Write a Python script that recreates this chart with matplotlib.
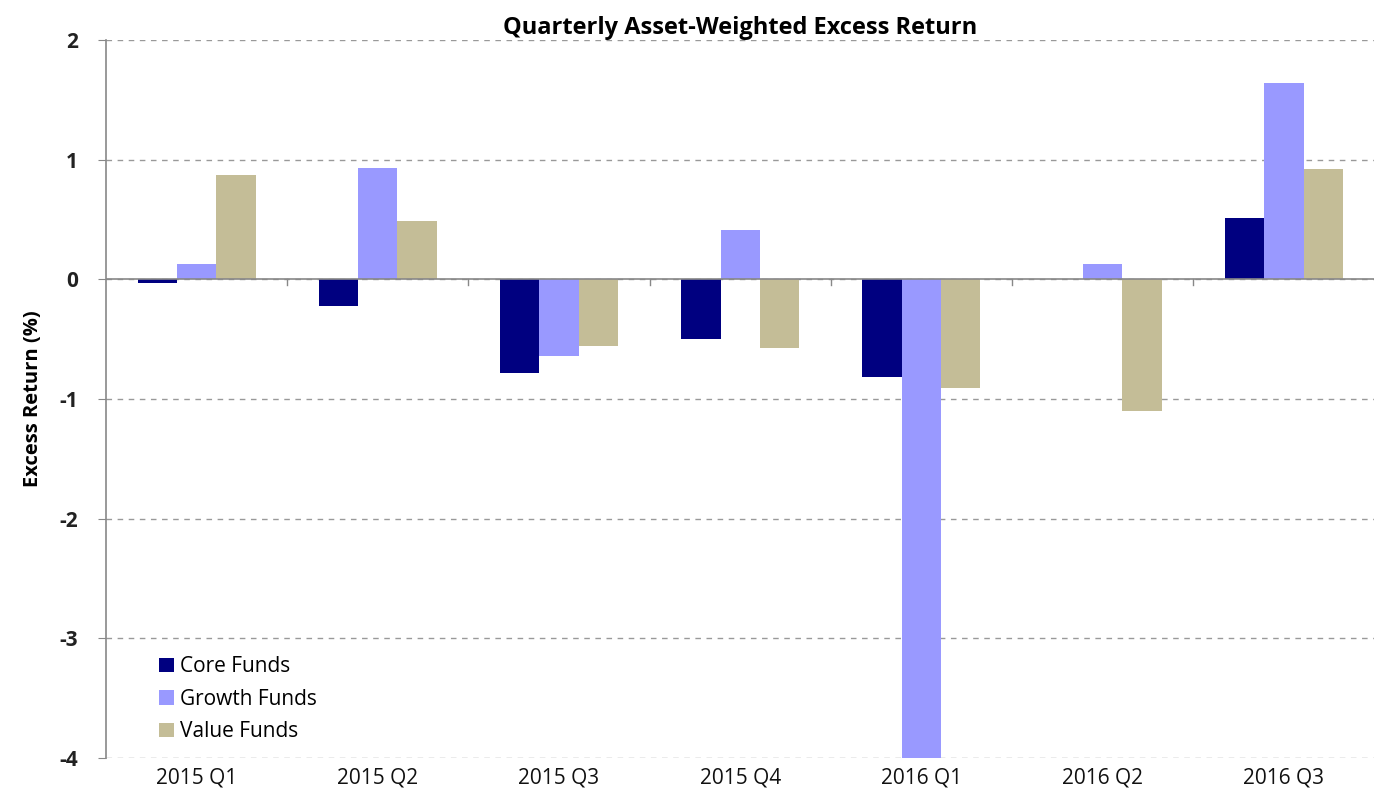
import matplotlib
matplotlib.use("Agg")
import matplotlib.pyplot as plt
import numpy as np

categories = ["2015 Q1", "2015 Q2", "2015 Q3", "2015 Q4", "2016 Q1", "2016 Q2", "2016 Q3"]
core = [-0.03, -0.22, -0.78, -0.50, -0.82, 0.0, 0.51]
growth = [0.13, 0.93, -0.64, 0.41, -4.0, 0.13, 1.64]
value = [0.87, 0.49, -0.56, -0.57, -0.91, -1.10, 0.92]
series_names = ["Core Funds", "Growth Funds", "Value Funds"]
colors = ["#000080", "#9999FF", "#C4BD97"]
yticks = [2, 1, 0, -1, -2, -3, -4]

plt.rcParams['font.family'] = ['Open Sans', 'DejaVu Sans']

fig = plt.figure(figsize=(13.8, 7.99), dpi=100)
ax = fig.add_axes([0.0768, 0.0513, 0.9192, 0.8987])

x = np.arange(len(categories))
w = 0.217
for i, (vals, name, c) in enumerate(zip([core, growth, value], series_names, colors)):
    ax.bar(x + (i - 1) * w, vals, width=w, color=c, label=name, zorder=3)

ax.set_xlim(-0.5, len(categories) - 0.5)
ax.set_ylim(-4, 2)
ax.set_yticks(yticks)
ax.set_yticklabels([str(t) for t in yticks], fontsize=15, fontweight='bold', color='#222222')
ax.yaxis.grid(True, linestyle=(0, (4, 4)), color='#999999', linewidth=1.0, zorder=0)

# zero axis line with category boundary ticks
ax.axhline(0, color='#888888', linewidth=1.2, zorder=4)
for b in np.arange(0.5, len(categories) - 0.5, 1.0):
    ax.plot([b, b], [0, -0.05], color='#888888', linewidth=1.0, zorder=4)

ax.set_xticks(x)
ax.set_xticklabels(categories, fontsize=15, color='#111111')
ax.tick_params(axis='x', length=0, pad=7)
ax.tick_params(axis='y', length=6, color='#888888', direction='out', pad=14)

for s in ['top', 'right', 'bottom']:
    ax.spines[s].set_visible(False)
ax.spines['left'].set_color('#888888')
ax.spines['left'].set_linewidth(1.2)

ax.set_ylabel("Excess Return (%)", fontsize=14.5, fontweight='bold', labelpad=12)
ax.set_title("Quarterly Asset-Weighted Excess Return", fontsize=17, fontweight='bold', pad=2)

leg = ax.legend(loc='lower left', bbox_to_anchor=(0.027, -0.004), frameon=False, fontsize=15,
                handlelength=0.7, handleheight=0.7, handletextpad=0.3, labelspacing=0.55)

fig.savefig("out.png", dpi=100)
